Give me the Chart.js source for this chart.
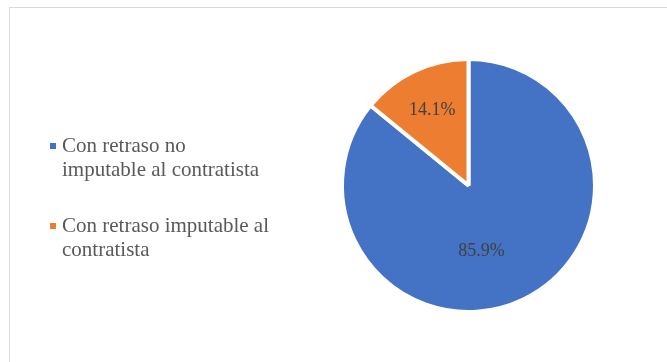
<!DOCTYPE html>
<html>
<head>
<meta charset="utf-8">
<script src="https://cdn.jsdelivr.net/npm/chart.js@4"></script>
<style>
    html, body { margin: 0; padding: 0; background: #fff; }
    #wrap { position: relative; width: 667px; height: 362px; overflow: hidden; }
    #frame { position: absolute; left: 9px; top: 7px; width: 700px; height: 400px; border: 1px solid #d9d9d9; box-sizing: border-box; }
    #chart { position: absolute; left: 0; top: 0; }
    #legend { position: absolute; left: 0; top: 0; font-family: "Liberation Serif", "Times New Roman", serif; font-size: 21px; line-height: 24px; color: #595959; }
    .item { position: absolute; left: 62px; white-space: nowrap; }
    .box { position: absolute; left: -12px; top: 10px; width: 6px; height: 6px; }
</style>
</head>
<body>
<div id="wrap">
    <div id="frame"></div>
    <canvas id="chart" width="667" height="362"></canvas>
    <div id="legend"></div>
</div>
<script>
// each category is stored as its wrapped legend lines
const categories = [
    ['Con retraso no', 'imputable al contratista'],
    ['Con retraso imputable al', 'contratista']
];
const percentages = [85.9, 14.1];
const sliceColors = ['#4472C4', '#ED7D31'];

// where the value labels sit: fraction of the radius and a small angle nudge (degrees)
const labelRadius = [0.52, 0.67];
const labelNudge = [14, 0];

const valueLabels = {
    id: 'valueLabels',
    afterDatasetsDraw(chart) {
        const ctx = chart.ctx;
        const meta = chart.getDatasetMeta(0);
        ctx.save();
        ctx.font = '18px "Liberation Serif", "Times New Roman", serif';
        ctx.fillStyle = '#404040';
        ctx.textAlign = 'center';
        ctx.textBaseline = 'middle';
        meta.data.forEach((arc, i) => {
            const p = arc.getProps(['x', 'y', 'startAngle', 'endAngle', 'outerRadius'], true);
            const mid = (p.startAngle + p.endAngle) / 2 + labelNudge[i] * Math.PI / 180;
            const r = p.outerRadius * labelRadius[i];
            const x = p.x + Math.cos(mid) * r;
            const y = p.y + Math.sin(mid) * r;
            ctx.fillText(percentages[i].toFixed(1) + '%', x, y + 1);
        });
        ctx.restore();
    }
};

const chart = new Chart(document.getElementById('chart'), {
    type: 'pie',
    data: {
        labels: categories,
        datasets: [{
            data: percentages,
            backgroundColor: sliceColors,
            borderColor: '#ffffff',
            borderWidth: 4
        }]
    },
    options: {
        responsive: false,
        animation: false,
        layout: { padding: { left: 340, right: 70, top: 57, bottom: 48 } },
        plugins: {
            legend: { display: false },
            tooltip: { enabled: false }
        }
    },
    plugins: [valueLabels]
});

// legend on the left, built from the same categories and colours
const legend = document.getElementById('legend');
const itemTops = [133, 213];
categories.forEach((lines, i) => {
    const item = document.createElement('div');
    item.className = 'item';
    item.style.top = itemTops[i] + 'px';
    const box = document.createElement('span');
    box.className = 'box';
    box.style.background = sliceColors[i];
    item.appendChild(box);
    lines.forEach((line, j) => {
        if (j > 0) item.appendChild(document.createElement('br'));
        item.appendChild(document.createTextNode(line));
    });
    legend.appendChild(item);
});
</script>
</body>
</html>
